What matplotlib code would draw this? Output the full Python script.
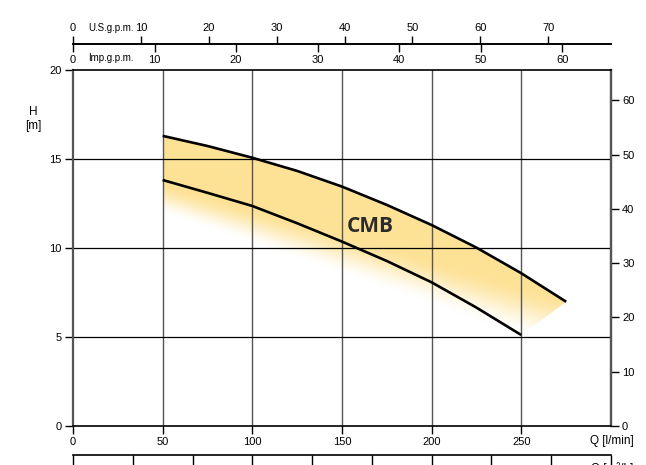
import matplotlib.pyplot as plt
import numpy as np
from matplotlib.patches import Polygon

plt.rcParams['font.family'] = ['Liberation Sans Narrow', 'Liberation Sans', 'DejaVu Sans']

# curves: Q in l/min, H in m
q_top = [50, 75, 100, 125, 150, 175, 200, 225, 250, 275]
h_top = [16.3, 15.73, 15.07, 14.33, 13.45, 12.42, 11.29, 10.02, 8.58, 6.98]
q_low = [50, 75, 100, 125, 150, 175, 200, 225, 250]
h_low = [13.82, 13.1, 12.36, 11.39, 10.36, 9.27, 8.07, 6.65, 5.11]
model = 'CMB'

q_ticks = [0, 50, 100, 150, 200, 250]
h_ticks = [0, 5, 10, 15, 20]
ft_ticks = [0, 10, 20, 30, 40, 50, 60]
us_ticks = [0, 10, 20, 30, 40, 50, 60, 70]
imp_ticks = [0, 10, 20, 30, 40, 50, 60]
m3h_ticks = list(range(0, 20, 2))

LPM_US = 0.264172
LPM_IMP = 0.219969
M_FT = 3.28084

W, H = 646, 465
FS = 8
fig = plt.figure(figsize=(W / 100, H / 100), dpi=100)
ax = fig.add_axes([73 / W, 1 - 426 / H, 538 / W, 356 / H])

# yellow band, fading towards lower right
yel = np.array([253, 226, 150]) / 255
qq, hh = np.meshgrid(np.linspace(50, 280, 300), np.linspace(3, 17, 300))
h_full = 13.6 - (qq - 50) * 0.028
h_white = 11.9 - (qq - 50) * 0.0345
a = np.clip((hh - h_white) / (h_full - h_white), 0, 1)
a = a * a * (3 - 2 * a)
img = np.zeros(qq.shape + (4,))
img[..., :3] = yel
img[..., 3] = a
im = ax.imshow(img, extent=(50, 280, 3, 17), origin='lower', aspect='auto',
               zorder=1, interpolation='bilinear')
poly = Polygon(list(zip(q_top, h_top)) + [(q_low[-1], h_low[-1]), (50, 11.6)],
               closed=True, transform=ax.transData, fc='none', ec='none')
ax.add_patch(poly)
im.set_clip_path(poly)

ax.plot(q_top, h_top, color='black', lw=1.9, zorder=3, solid_capstyle='butt')
ax.plot(q_low, h_low, color='black', lw=1.9, zorder=3, solid_capstyle='butt')
ax.text(165.5, 11.2, model, fontsize=15, fontweight='bold', family='Open Sans',
        color='#2b2b2b', ha='center', va='center', zorder=4)

ax.set_xlim(0, 300)
ax.set_ylim(0, 20)
ax.set_xticks(q_ticks)
ax.set_yticks(h_ticks)
for v in q_ticks[1:]:
    ax.axvline(v, color='#555555', lw=1.0, zorder=2)
for v in h_ticks[1:-1]:
    ax.axhline(v, color='black', lw=0.9, zorder=2)
ax.tick_params(direction='out', length=6, width=1, labelsize=FS, pad=2)
for s in ['left', 'right']:
    ax.spines[s].set_color('#555555')
    ax.spines[s].set_linewidth(1.6)
for s in ['top', 'bottom']:
    ax.spines[s].set_linewidth(1.2)

# right axis in feet
sec_ft = ax.secondary_yaxis('right', functions=(lambda h: h * M_FT, lambda f: f / M_FT))
sec_ft.set_yticks(ft_ticks)
sec_ft.tick_params(direction='out', length=6, width=1, labelsize=FS, pad=2)
sec_ft.spines['right'].set_color('#555555')
sec_ft.spines['right'].set_linewidth(1.6)

# top scales
loc = (426 - 44) / 356
sec_us = ax.secondary_xaxis(loc, functions=(lambda q: q * LPM_US, lambda g: g / LPM_US))
sec_us.set_xticks(us_ticks)
sec_us.tick_params(direction='out', length=6, width=1, labelsize=FS, pad=2)
sec_us.spines['top'].set_linewidth(1.2)

sec_imp = ax.secondary_xaxis(loc, functions=(lambda q: q * LPM_IMP, lambda g: g / LPM_IMP))
sec_imp.set_alignment('bottom')
sec_imp.set_xticks(imp_ticks)
sec_imp.tick_params(direction='out', length=6, width=1, labelsize=FS, pad=2)
sec_imp.spines['bottom'].set_linewidth(1.2)

# bottom m3/h scale, cut off by the image edge like in the original
sec_m3 = ax.secondary_xaxis(-(455 - 426) / 356, functions=(lambda q: q * 0.06, lambda v: v / 0.06))
sec_m3.set_xticks(m3h_ticks, labels=[''] * len(m3h_ticks))
sec_m3.tick_params(direction='out', length=7, width=1, labelsize=FS, pad=2)
sec_m3.spines['bottom'].set_linewidth(1.2)

fig.text(88 / W, 1 - 28 / H, 'U.S.g.p.m.', fontsize=7, ha='left', va='center')
fig.text(88 / W, 1 - 58 / H, 'Imp.g.p.m.', fontsize=7, ha='left', va='center')
fig.text(33 / W, 1 - 119 / H, 'H\n[m]', fontsize=FS + 0.5, ha='center', va='center', linespacing=1.3)
fig.text(645 / W, 1 - 125 / H, 'H\n[ft]', fontsize=FS + 0.5, ha='left', va='center', linespacing=1.3)
fig.text(612 / W, 1 - 441 / H, 'Q [l/min]', fontsize=FS + 0.5, ha='center', va='center')
fig.text(612 / W, 1 - 469 / H, 'Q [m³/h]', fontsize=FS + 0.5, ha='center', va='center')

fig.savefig('out.png', dpi=100)
